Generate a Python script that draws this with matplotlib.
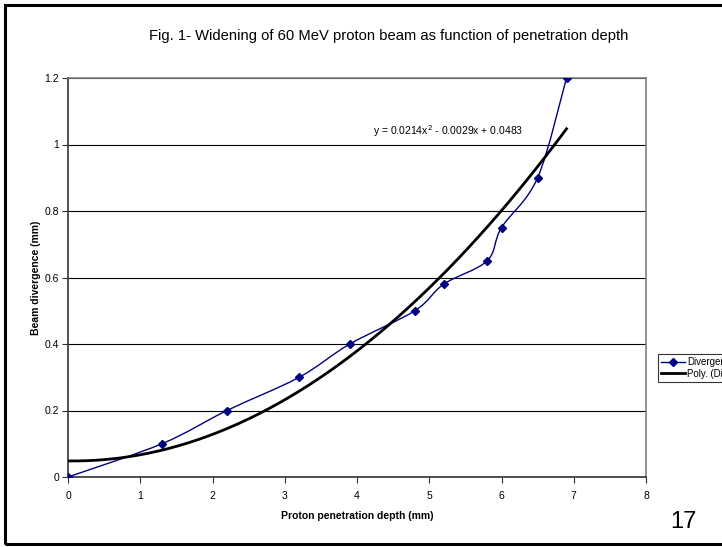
import numpy as np
import matplotlib
matplotlib.use("Agg")
import matplotlib.pyplot as plt
from matplotlib.path import Path
from matplotlib.patches import PathPatch, Rectangle
from matplotlib.lines import Line2D

plt.rcParams['font.family'] = ['Liberation Sans', 'DejaVu Sans']

depth = [0, 1.3, 2.2, 3.2, 3.9, 4.8, 5.2, 5.8, 6.0, 6.5, 6.9]
divergence = [0, 0.1, 0.2, 0.3, 0.4, 0.5, 0.58, 0.65, 0.75, 0.9, 1.2]

# trendline coefficients from the chart label
poly_coef = [0.0214, -0.0029, 0.0483]
x_ticks = [0, 1, 2, 3, 4, 5, 6, 7, 8]
y_ticks = [0, 0.2, 0.4, 0.6, 0.8, 1, 1.2]
y_ticklabels = ['0', '0.2', '0.4', '0.6', '0.8', '1', '1.2']

fig = plt.figure(figsize=(7.22, 5.47), dpi=100)
ax = fig.add_axes([68/722, 1 - 477/547, (646 - 68)/722, (477 - 78)/547])

# smoothed line like Excel: cubic bezier through the points
px = np.array(depth, dtype=float)
py = np.array(divergence, dtype=float)
verts = [(px[0], py[0])]
codes = [Path.MOVETO]
n = len(px)
for i in range(n - 1):
    p0 = np.array([px[max(i - 1, 0)], py[max(i - 1, 0)]])
    p1 = np.array([px[i], py[i]])
    p2 = np.array([px[i + 1], py[i + 1]])
    p3 = np.array([px[min(i + 2, n - 1)], py[min(i + 2, n - 1)]])
    c1 = p1 + (p2 - p0) / 6.0
    c2 = p2 - (p3 - p1) / 6.0
    verts += [tuple(c1), tuple(c2), tuple(p2)]
    codes += [Path.CURVE4] * 3
ax.add_patch(PathPatch(Path(verts, codes), facecolor='none', edgecolor='#000080', lw=1.0, zorder=3))
ax.plot(depth, divergence, linestyle='none', marker='D', markersize=4, color='#000080', zorder=4)

# polynomial trendline
xf = np.linspace(0, depth[-1], 200)
ax.plot(xf, np.polyval(poly_coef, xf), color='black', lw=2.0, zorder=3)

ax.text(6.3, 1.04, 'y = 0.0214x$^{2}$ - 0.0029x + 0.0483', ha='right', va='center', fontsize=7.5)

ax.set_xlim(0, 8)
ax.set_ylim(0, 1.2)
ax.set_xticks(x_ticks)
ax.set_yticks(y_ticks)
ax.set_yticklabels(y_ticklabels)
ax.tick_params(labelsize=7.5, length=4, width=0.8, color='#333333')
ax.tick_params(axis='x', pad=6)
ax.tick_params(axis='y', pad=2.5)
ax.yaxis.grid(True, color='black', lw=0.8)
ax.set_axisbelow(True)
for s in ['top', 'right']:
    ax.spines[s].set_color('#808080')
    ax.spines[s].set_linewidth(1.2)
for s in ['left', 'bottom']:
    ax.spines[s].set_color('#333333')
    ax.spines[s].set_linewidth(1.2)

ax.set_xlabel('Proton penetration depth (mm)', fontsize=7.5, fontweight='bold')
ax.set_ylabel('Beam divergence (mm)', fontsize=7.5, fontweight='bold')
ax.xaxis.set_label_coords(0.5, (477 - 516) / 399, transform=ax.transAxes)
ax.yaxis.set_label_coords((36 - 68) / 578, 0.5, transform=ax.transAxes)
ax.xaxis.label.set_va('center')
ax.yaxis.label.set_va('center')

fig.text(389/722, 1 - 36/547, 'Fig. 1- Widening of 60 MeV proton beam as function of penetration depth',
         ha='center', va='center', fontsize=10.6)
fig.text(683/722, 1 - 522/547, '17', ha='center', va='center', fontsize=17)

handles = [Line2D([], [], color='#000080', marker='D', markersize=4, lw=1.0),
           Line2D([], [], color='black', lw=2.0)]
leg = fig.legend(handles, ['Divergence', 'Poly. (Divergence)'], loc='upper left',
                 bbox_to_anchor=(658/722, 1 - 354/547), fontsize=7, frameon=True,
                 fancybox=False, edgecolor='black', handlelength=2.5, borderpad=0.3,
                 labelspacing=0.2, handletextpad=0.2, borderaxespad=0)
leg.get_frame().set_linewidth(0.8)

fig.patches.append(Rectangle((5/722, 1 - 544/547), 1.2, (544 - 5)/547, transform=fig.transFigure,
                             fill=False, edgecolor='black', lw=2.2))

fig.savefig('out.png', dpi=100)
